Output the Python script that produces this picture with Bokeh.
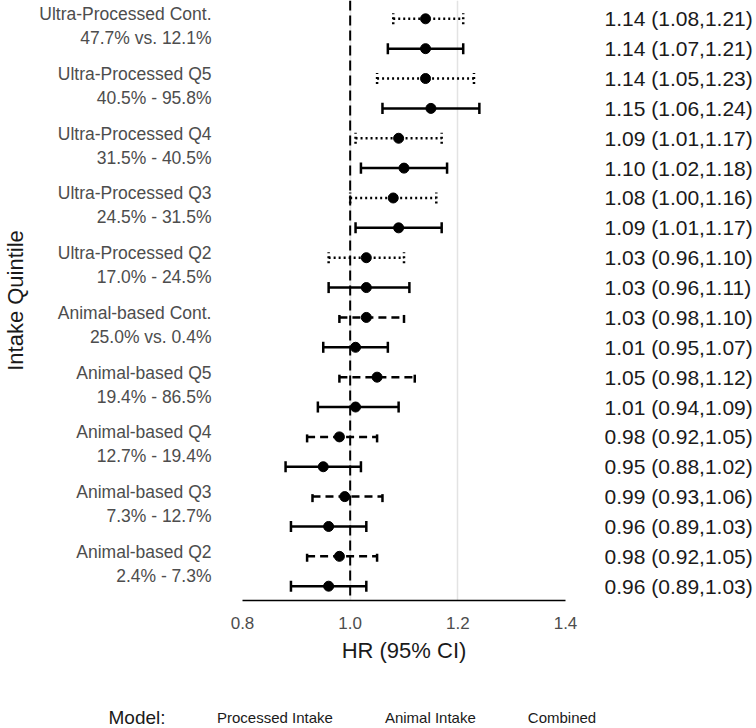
from bokeh.plotting import figure
from bokeh.layouts import column
from bokeh.models import (Range1d, FixedTicker, LinearAxis, Legend, LegendItem,
                          ColumnDataSource, Span, PrintfTickFormatter, Label)
from bokeh.embed import file_html
from bokeh.resources import INLINE

# ---- data (top to bottom as in the chart) ----
groups = ["Ultra-Processed Cont.", "Ultra-Processed Q5", "Ultra-Processed Q4",
          "Ultra-Processed Q3", "Ultra-Processed Q2", "Animal-based Cont.",
          "Animal-based Q5", "Animal-based Q4", "Animal-based Q3", "Animal-based Q2"]
ranges = ["47.7% vs. 12.1%", "40.5% - 95.8%", "31.5% - 40.5%", "24.5% - 31.5%",
          "17.0% - 24.5%", "25.0% vs. 0.4%", "19.4% - 86.5%", "12.7% - 19.4%",
          "7.3% - 12.7%", "2.4% - 7.3%"]
single_model = ["Processed Intake"] * 5 + ["Animal Intake"] * 5
single_hr = [1.14, 1.14, 1.09, 1.08, 1.03, 1.03, 1.05, 0.98, 0.99, 0.98]
single_lo = [1.08, 1.05, 1.01, 1.00, 0.96, 0.98, 0.98, 0.92, 0.93, 0.92]
single_hi = [1.21, 1.23, 1.17, 1.16, 1.10, 1.10, 1.12, 1.05, 1.06, 1.05]
comb_hr = [1.14, 1.15, 1.10, 1.09, 1.03, 1.01, 1.01, 0.95, 0.96, 0.96]
comb_lo = [1.07, 1.06, 1.02, 1.01, 0.96, 0.95, 0.94, 0.88, 0.89, 0.89]
comb_hi = [1.21, 1.24, 1.18, 1.17, 1.11, 1.07, 1.09, 1.02, 1.03, 1.03]
x_ticks = [0.8, 1.0, 1.2, 1.4]
models = ["Processed Intake", "Animal Intake", "Combined"]
model_dash = {"Processed Intake": "2 3", "Animal Intake": "8 5", "Combined": "solid"}
legend_title = "Model:"

FONT = "Liberation Sans"
n = len(groups)
CAP = 0.185  # half cap height in row units

def fmt(h, l, u):
    return f"{h:.2f} ({l:.2f},{u:.2f})"

rows = {m: dict(y=[], hr=[], lo=[], hi=[]) for m in models}
right_labels = {}
left_labels = {}
for i in range(n):
    gi = n - 1 - i
    ys, yc = 2 * gi + 1, 2 * gi
    m = single_model[i]
    for key, y, h, l, u in ((m, ys, single_hr[i], single_lo[i], single_hi[i]),
                            ("Combined", yc, comb_hr[i], comb_lo[i], comb_hi[i])):
        rows[key]["y"].append(y)
        rows[key]["hr"].append(h)
        rows[key]["lo"].append(l)
        rows[key]["hi"].append(u)
        right_labels[y] = fmt(h, l, u)
    left_labels[2 * gi + 0.75] = groups[i] + "\n" + ranges[i]

p = figure(width=756, height=680, output_backend="svg", toolbar_location=None,
           x_range=Range1d(0.8, 1.4), y_range=Range1d(-0.479, 19.613),
           min_border_left=240, min_border_right=191, min_border_top=0,
           min_border_bottom=80)
p.outline_line_color = None
p.background_fill_color = "white"
p.ygrid.visible = False
p.xgrid.ticker = FixedTicker(ticks=x_ticks)
p.xgrid.grid_line_color = "#e3e3e3"
p.xgrid.grid_line_width = 1.5

vline = Span(location=1.0, dimension="height", line_color="black",
             line_width=2, line_dash="10 5", level="underlay")
p.add_layout(vline)

for m in models:
    d = rows[m]
    src = ColumnDataSource(dict(y=d["y"], hr=d["hr"], lo=d["lo"], hi=d["hi"],
                                y0=[v - CAP for v in d["y"]],
                                y1=[v + CAP for v in d["y"]]))
    p.segment(x0="lo", x1="hi", y0="y", y1="y", source=src,
              line_color="black", line_width=2.5, line_dash=model_dash[m])
    p.segment(x0="lo", x1="lo", y0="y0", y1="y1", source=src,
              line_color="black", line_width=2.5, line_dash=model_dash[m])
    p.segment(x0="hi", x1="hi", y0="y0", y1="y1", source=src,
              line_color="black", line_width=2.5, line_dash=model_dash[m])
    p.scatter(x="hr", y="y", source=src, size=10, color="black")

# bottom axis
xa = p.xaxis[0]
xa.ticker = FixedTicker(ticks=x_ticks)
xa.formatter = PrintfTickFormatter(format="%.1f")
xa.axis_line_color = "black"
xa.axis_line_width = 1.5
xa.major_tick_out = 0
xa.major_tick_in = 0
xa.minor_tick_out = 0
xa.minor_tick_in = 0
xa.major_label_standoff = 16
xa.major_label_text_font = FONT
xa.major_label_text_font_size = "17px"
xa.major_label_text_color = "#4d4d4d"
xa.axis_label = "HR (95% CI)"
xa.axis_label_text_font = FONT
xa.axis_label_text_font_size = "22px"
xa.axis_label_text_font_style = "normal"
xa.axis_label_text_color = "#1a1a1a"
xa.axis_label_standoff = 6

# left axis
ya = p.yaxis[0]
ya.ticker = FixedTicker(ticks=list(left_labels.keys()))
ya.major_label_overrides = left_labels
ya.axis_line_color = None
ya.major_tick_out = 0
ya.major_tick_in = 0
ya.minor_tick_out = 0
ya.minor_tick_in = 0
ya.major_label_standoff = 31
ya.major_label_text_font = FONT
ya.major_label_text_font_size = "17.5px"
ya.major_label_text_color = "#4d4d4d"
ya.axis_label = "Intake Quintile"
ya.axis_label_text_font = FONT
ya.axis_label_text_font_size = "22px"
ya.axis_label_text_font_style = "normal"
ya.axis_label_text_color = "#1a1a1a"
ya.axis_label_standoff = 8

# right axis with HR texts
ra = LinearAxis(ticker=FixedTicker(ticks=list(right_labels.keys())),
                major_label_overrides=right_labels)
ra.axis_line_color = None
ra.major_tick_out = 0
ra.major_tick_in = 0
ra.minor_tick_out = 0
ra.minor_tick_in = 0
ra.major_label_standoff = 39
ra.major_label_text_font = FONT
ra.major_label_text_font_size = "21px"
ra.major_label_text_color = "#1a1a1a"
p.add_layout(ra, "right")

# legend strip below the chart
leg = figure(width=756, height=48, output_backend="svg", toolbar_location=None,
             x_range=Range1d(0, 1), y_range=Range1d(0, 1), min_border=0,
             min_border_left=0, min_border_right=0, min_border_top=0,
             min_border_bottom=0)
for fig in (p, leg):
    if "frame_align" in fig.properties():
        fig.frame_align = False
leg.axis.visible = False
leg.grid.visible = False
leg.outline_line_color = None
items = []
for m in models:
    r = leg.line(x=[], y=[], line_color="black",
                 line_width=2.5, line_dash=model_dash[m])
    items.append(LegendItem(label=m, renderers=[r]))
legend = Legend(items=items, orientation="horizontal", location=(178, 2))
legend.label_text_font = FONT
legend.label_text_font_size = "15px"
legend.label_text_color = "#1a1a1a"
legend.glyph_width = 26
legend.glyph_height = 18
legend.label_standoff = 13
legend.spacing = 13
legend.padding = 0
legend.margin = 0
legend.border_line_color = None
legend.background_fill_alpha = 0
leg.add_layout(legend, "center")
leg.add_layout(Label(x=108, y=11, x_units="screen", y_units="screen",
                     text=legend_title, text_font=FONT, text_font_size="19px",
                     text_color="#1a1a1a", text_baseline="middle", text_align="left"))

open("out.html", "w").write(file_html(column(p, leg), INLINE))
